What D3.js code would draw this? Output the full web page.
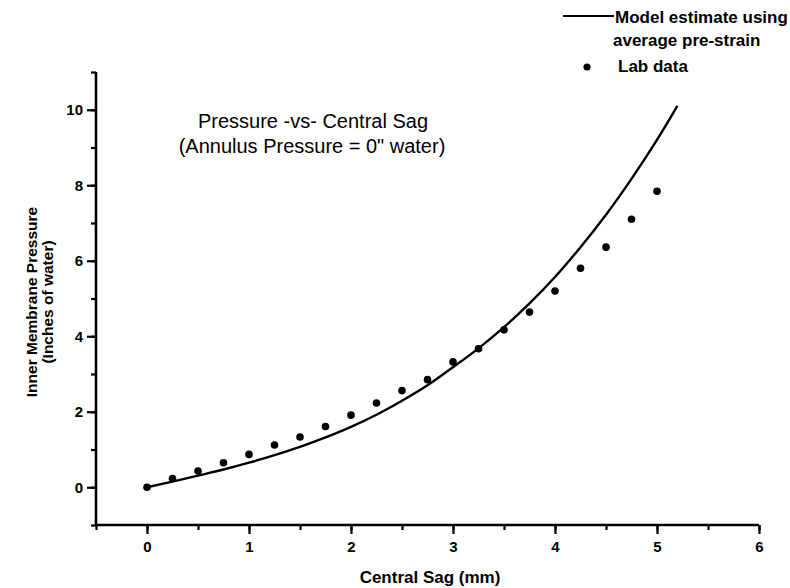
<!DOCTYPE html>
<html><head><meta charset="utf-8">
<script src="https://cdn.jsdelivr.net/npm/d3@7"></script>
<style>body{margin:0;background:#fff}svg{display:block}text{font-family:"Liberation Sans",Arial,Helvetica,sans-serif;fill:#000}</style>
</head><body>
<script>
// Lab data
const labX = [0,0.25,0.5,0.75,1.0,1.25,1.5,1.75,2.0,2.25,2.5,2.75,3.0,3.25,3.5,3.75,4.0,4.25,4.5,4.75,5.0];
const labY = [0,0.23,0.43,0.65,0.87,1.12,1.33,1.61,1.91,2.23,2.56,2.85,3.32,3.67,4.17,4.64,5.20,5.80,6.36,7.10,7.84];
// Model estimate using average pre-strain
const modelX = [0,0.25,0.5,0.75,1.0,1.25,1.5,1.75,2.0,2.25,2.5,2.75,3.0,3.25,3.5,3.75,4.0,4.25,4.5,4.75,5.0,5.2];
const modelY = [0,0.15,0.31,0.47,0.65,0.85,1.07,1.32,1.60,1.92,2.29,2.70,3.18,3.68,4.24,4.87,5.57,6.36,7.22,8.17,9.20,10.1];
const xTicks = [0,1,2,3,4,5,6];
const yTicks = [0,2,4,6,8,10];

const W=790,H=588;
const svg=d3.select("body").append("svg").attr("width",W).attr("height",H);
const x=d3.scaleLinear().domain([-0.5,6]).range([96,759]);
const y=d3.scaleLinear().domain([-1,11]).range([525,72]);

// x axis (minor then major)
const gx=svg.append("g").attr("transform",`translate(0,${y(-1)})`);
gx.call(d3.axisBottom(x).tickValues(d3.range(-0.5,6.01,0.5)).tickSize(5).tickFormat(""));
gx.select(".domain").attr("stroke-width",2.6).attr("d",`M${x(-0.5)},0H${x(6)}`);
gx.selectAll(".tick line").attr("stroke-width",2.2);
const gx2=svg.append("g").attr("transform",`translate(0,${y(-1)})`);
gx2.call(d3.axisBottom(x).tickValues(xTicks).tickSize(9).tickPadding(7).tickFormat(d3.format("d")));
gx2.select(".domain").remove();
gx2.selectAll(".tick line").attr("stroke-width",2.2);
gx2.selectAll("text").attr("font-size",15).attr("font-weight","bold");

// y axis (minor then major)
const gy=svg.append("g").attr("transform",`translate(${x(-0.5)},0)`);
gy.call(d3.axisLeft(y).tickValues(d3.range(-1,11.01,1)).tickSize(5).tickFormat(""));
gy.select(".domain").attr("stroke-width",2.6).attr("d",`M0,${y(-1)}V${y(11)}`);
gy.selectAll(".tick line").attr("stroke-width",2.2);
const gy2=svg.append("g").attr("transform",`translate(${x(-0.5)},0)`);
gy2.call(d3.axisLeft(y).tickValues(yTicks).tickSize(9).tickPadding(4).tickFormat(d3.format("d")));
gy2.select(".domain").remove();
gy2.selectAll(".tick line").attr("stroke-width",2.2);
gy2.selectAll("text").attr("font-size",15).attr("font-weight","bold");

// model line
const model=modelX.map((v,i)=>[v,modelY[i]]);
svg.append("path").datum(model).attr("fill","none").attr("stroke","#000").attr("stroke-width",2.4)
  .attr("d",d3.line().x(d=>x(d[0])).y(d=>y(d[1])).curve(d3.curveCatmullRom));

// lab points
const lab=labX.map((v,i)=>[v,labY[i]]);
svg.append("g").selectAll("circle").data(lab).join("circle")
  .attr("cx",d=>x(d[0])).attr("cy",d=>y(d[1])).attr("r",3.8).attr("fill","#000");

// title
svg.append("text").attr("x",313).attr("y",128).attr("text-anchor","middle").attr("font-size",20).text("Pressure -vs- Central Sag");
svg.append("text").attr("x",312).attr("y",153).attr("text-anchor","middle").attr("font-size",20).text("(Annulus Pressure = 0\" water)");

// axis titles
svg.append("text").attr("x",430).attr("y",583).attr("text-anchor","middle").attr("font-size",17).attr("font-weight","bold").text("Central Sag (mm)");
svg.append("text").attr("transform","translate(37,302) rotate(-90)").attr("text-anchor","middle").attr("font-size",15.5).attr("font-weight","bold").text("Inner Membrane Pressure");
svg.append("text").attr("transform","translate(53,302) rotate(-90)").attr("text-anchor","middle").attr("font-size",15.5).attr("font-weight","bold").text("(Inches of water)");

// legend
svg.append("line").attr("x1",563).attr("x2",614).attr("y1",16).attr("y2",16).attr("stroke","#000").attr("stroke-width",1.8);
svg.append("text").attr("x",615).attr("y",23).attr("font-size",17).attr("font-weight","bold").text("Model estimate using");
svg.append("text").attr("x",613).attr("y",46).attr("font-size",17).attr("font-weight","bold").text("average pre-strain");
svg.append("circle").attr("cx",587).attr("cy",67).attr("r",3.6).attr("fill","#000");
svg.append("text").attr("x",618).attr("y",72).attr("font-size",17).attr("font-weight","bold").text("Lab data");
</script>
</body></html>
